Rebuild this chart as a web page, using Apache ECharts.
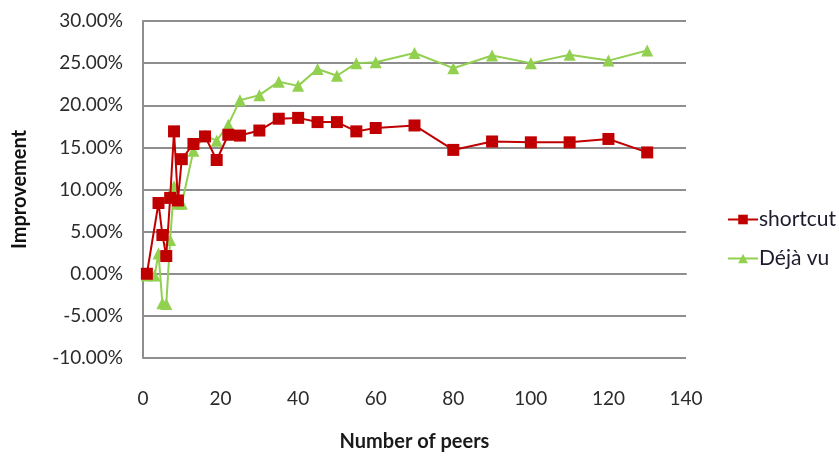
<!DOCTYPE html>
<html>
<head>
<meta charset="utf-8">
<style>
  html, body { margin: 0; padding: 0; background: #fff; }
  #chart { width: 839px; height: 457px; }
</style>
<script src="https://cdn.jsdelivr.net/npm/echarts@6/dist/echarts.min.js"></script>
</head>
<body>
<div id="chart"></div>
<script>
// Improvement (%) versus number of peers
const shortcutPeers = [1, 4, 5, 6, 7, 8, 9, 10, 13, 16, 19, 22, 25, 30, 35, 40, 45, 50, 55, 60, 70, 80, 90, 100, 110, 120, 130];
const shortcutValues = [0.0, 8.4, 4.6, 2.1, 9.0, 16.9, 8.7, 13.6, 15.4, 16.3, 13.5, 16.5, 16.4, 17.0, 18.4, 18.5, 18.0, 18.0, 16.9, 17.3, 17.6, 14.7, 15.7, 15.6, 15.6, 16.0, 14.4];

const dejavuPeers = [1, 3, 4, 5, 6, 7, 8, 9, 10, 13, 16, 19, 22, 25, 30, 35, 40, 45, 50, 55, 60, 70, 80, 90, 100, 110, 120, 130];
const dejavuValues = [-0.2, -0.2, 2.4, -3.5, -3.6, 4.0, 10.4, 8.3, 8.3, 14.6, 16.4, 15.8, 17.7, 20.6, 21.2, 22.8, 22.3, 24.3, 23.5, 25.0, 25.1, 26.2, 24.4, 25.9, 25.0, 26.0, 25.3, 26.5];

const seriesNames = ['shortcut', 'Déjà vu'];
const xTitle = 'Number of peers';
const yTitle = 'Improvement';

const pairs = (xs, ys) => xs.map((x, i) => [x, ys[i]]);

const FONT = 'Lato, "Open Sans", sans-serif';
const GRID_COLOR = '#8e8e8e';

const chart = echarts.init(document.getElementById('chart'), null, { renderer: 'canvas' });

chart.setOption({
  animation: false,
  backgroundColor: '#ffffff',
  textStyle: { fontFamily: FONT },
  grid: { left: 143, right: 153, top: 21, bottom: 92, containLabel: false },
  xAxis: {
    type: 'value',
    min: 0,
    max: 140,
    interval: 20,
    name: xTitle,
    nameLocation: 'middle',
    nameGap: 74,
    nameTextStyle: { fontFamily: FONT, fontSize: 20, fontWeight: 'bold', color: '#1a1a1a' },
    axisLine: { show: true, lineStyle: { color: GRID_COLOR, width: 2 } },
    axisTick: { show: false },
    splitLine: { show: false },
    axisLabel: { fontFamily: FONT, fontSize: 19, color: '#2b2b2b', margin: 31 }
  },
  yAxis: {
    type: 'value',
    min: -10,
    max: 30,
    interval: 5,
    name: yTitle,
    nameLocation: 'middle',
    nameRotate: 90,
    nameGap: 113,
    nameTextStyle: { fontFamily: FONT, fontSize: 20, fontWeight: 'bold', color: '#111' },
    axisLine: { show: true, lineStyle: { color: GRID_COLOR, width: 2 } },
    axisTick: { show: false },
    splitLine: { show: true, lineStyle: { color: GRID_COLOR, width: 2 } },
    axisLabel: {
      fontFamily: FONT,
      fontSize: 19,
      color: '#2b2b2b',
      margin: 20,
      formatter: v => v.toFixed(2) + '%'
    }
  },
  legend: {
    orient: 'vertical',
    left: 722,
    top: 204,
    itemWidth: 30,
    itemHeight: 12,
    itemGap: 18,
    textStyle: { fontFamily: FONT, fontSize: 21, color: '#1c1c2c', padding: [0, 0, 0, -4] },
    data: seriesNames
  },
  series: [
    {
      name: seriesNames[0],
      type: 'line',
      data: pairs(shortcutPeers, shortcutValues),
      symbol: 'rect',
      symbolSize: 12,
      itemStyle: { color: '#c00000' },
      lineStyle: { color: '#c00000', width: 2 },
      z: 3
    },
    {
      name: seriesNames[1],
      type: 'line',
      data: pairs(dejavuPeers, dejavuValues),
      symbol: 'triangle',
      symbolSize: 12,
      itemStyle: { color: '#92d050' },
      lineStyle: { color: '#92d050', width: 2 },
      z: 2
    }
  ]
});
</script>
</body>
</html>
